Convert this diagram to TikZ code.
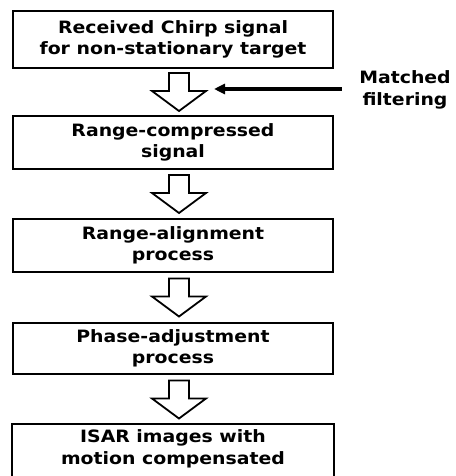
\documentclass[tikz,border=0pt]{standalone}
\usepackage{fontspec}
\setmainfont{DejaVu Sans}[FakeStretch=1.11]
\usetikzlibrary{arrows.meta,calc}
\begin{document}
\begin{tikzpicture}[x=1pt,y=-1pt,
  font=\bfseries\fontsize{17}{21.5}\selectfont,
  box/.style={draw, line width=1.8pt, minimum width=320pt, inner sep=0pt, align=center},
  hollow/.style={draw, line width=1.8pt, fill=white, line join=miter},
  mfarrow/.style={line width=3.2pt, -{Triangle[length=11pt,width=10pt]}},
  hollowarr/.pic={\path[hollow] (-10,-19) -- (10,-19) -- (10,-1) -- (27,-1) -- (0,19) -- (-27,-1) -- (-10,-1) -- cycle;}]
\clip (0,0) rectangle (455,476);
\node[box, minimum height=57pt] (b1) at (173,39.5) {Received Chirp signal\\for non-stationary target};
\node[box, minimum height=53pt] (b2) at (173,142.5) {Range-compressed\\signal};
\node[box, minimum height=53pt] (b3) at (173,245.5) {Range-alignment\\process};
\node[box, minimum height=51pt] (b4) at (173,348.5) {Phase-adjustment\\process};
\node[box, draw=none, minimum height=48pt] (b5) at (173,449) {ISAR images with\\motion compensated};
\draw[line width=1.8pt] ([yshift=-12pt]b5.south west) -- (b5.north west) -- (b5.north east) -- ([yshift=-12pt]b5.south east);
\path ($(b1.south)!0.5!(b2.north)+(6,0)$) pic {hollowarr};
\path ($(b2.south)!0.5!(b3.north)+(6,0)$) pic {hollowarr};
\path ($(b3.south)!0.5!(b4.north)+(6,0)$) pic {hollowarr};
\path ($(b4.south)!0.5!(b5.north)+(6,0)$) pic {hollowarr};
\node[align=center] (mf) at (405,90) {Matched\\filtering};
\coordinate (mfend) at (214,89);
\draw[mfarrow, shorten <=14pt] (mf.west |- mfend) -- (mfend);
\end{tikzpicture}
\end{document}
